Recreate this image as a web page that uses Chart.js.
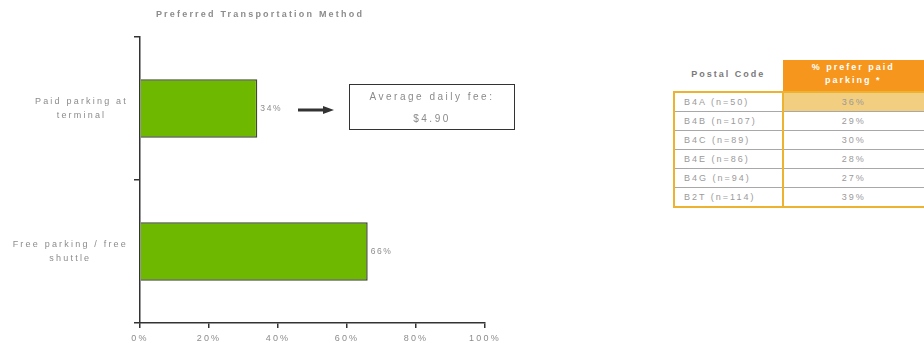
<!DOCTYPE html>
<html>
<head>
<meta charset="utf-8">
<script src="https://cdn.jsdelivr.net/npm/chart.js@4/dist/chart.umd.min.js"></script>
<style>
  html, body { margin: 0; padding: 0; background: #fff; }
  body { width: 924px; height: 343px; overflow: hidden; position: relative;
         font-family: "Liberation Sans", Arial, sans-serif; }
  #chartBox { position: absolute; left: 0; top: 0; width: 520px; height: 343px; }
  #arrow { position: absolute; left: 0; top: 0; }
  #feeBox { position: absolute; left: 349px; top: 84px; width: 164px; height: 44px;
            border: 1.5px solid #333; color: #8a8a8a; font-size: 10px; letter-spacing: 2.5px;
            text-align: center; line-height: 12px; }
  #feeBox .l1 { margin-top: 6px; }
  #feeBox .l2 { margin-top: 10px; }
  #postal { position: absolute; left: 673px; top: 60px; border-collapse: collapse;
            font-size: 9px; letter-spacing: 2px; color: #9a9a9a; }
  #postal th { height: 27px; padding: 0; font-weight: bold; }
  #postal th.c1 { width: 109px; color: #7a7a7a; background: #fff; padding-bottom: 4px; }
  #postal th.c2 { width: 142px; background: #F7961C; color: #fff; line-height: 13px; padding-bottom: 4px; }
  #postal td { height: 18px; padding: 0; border-top: 1px solid #a8a8a8; }
  #postal td.c1 { text-align: left; padding-left: 9px; border-left: 2px solid #EDB230;
                  border-right: 2px solid #EDB230; }
  #postal td.c2 { text-align: center; }
  #postal tbody tr:first-child td { border-top: 2px solid #EDB230; }
  #postal tbody tr:last-child td { border-bottom: 2px solid #EDB230; }
  #postal td.hatch { background: radial-gradient(circle, #EDBB55 0.6px, rgba(0,0,0,0) 0.9px) 0 0 / 2px 2px, #FDF0CF; }
</style>
</head>
<body>
<div id="chartBox"><canvas id="c" width="520" height="343"></canvas></div>

<svg id="arrow" width="520" height="343">
  <line x1="298" y1="110" x2="327" y2="110" stroke="#333" stroke-width="3"/>
  <polygon points="323,106 334,110 323,114" fill="#333"/>
</svg>
<div id="feeBox"><div class="l1" id="feeLabel"></div><div class="l2" id="feeValue"></div></div>

<table id="postal">
  <thead><tr><th class="c1" id="h1"></th><th class="c2" id="h2"></th></tr></thead>
  <tbody id="postalBody"></tbody>
</table>

<script>
// Chart data
const chartTitle = 'Preferred Transportation Method';
const methods = [['Paid parking at', 'terminal'], ['Free parking / free', 'shuttle']];
const methodShare = [34, 66];

// Callout
const feeLabel = 'Average daily fee:';
const feeValue = '$4.90';

// Postal code table
const tableHeaders = ['Postal Code', '% prefer paid parking *'];
const postalCodes = ['B4A (n=50)', 'B4B (n=107)', 'B4C (n=89)', 'B4E (n=86)', 'B4G (n=94)', 'B2T (n=114)'];
const preferPaid = [36, 29, 30, 28, 27, 39];

const textGray = '#8c8c8c';
const axisDark = '#333333';
const FAMILY = '"Liberation Sans", Arial, sans-serif';
const SPACING = '2.2px';

// Letter spacing for all canvas text (reset whenever the canvas is resized)
const spacingPlugin = {
  id: 'spacing',
  beforeLayout(chart) { chart.ctx.letterSpacing = SPACING; },
  beforeDraw(chart) { chart.ctx.letterSpacing = SPACING; }
};

// Title centred over the whole canvas
const titlePlugin = {
  id: 'centerTitle',
  afterDraw(chart) {
    const ctx = chart.ctx;
    ctx.save();
    ctx.letterSpacing = SPACING;
    ctx.font = 'bold 9px ' + FAMILY;
    ctx.fillStyle = textGray;
    ctx.textAlign = 'center';
    ctx.textBaseline = 'middle';
    ctx.fillText(chartTitle, chart.width / 2, 15);
    ctx.restore();
  }
};

// Category labels: each block centred on itself, widest line ending at the tick
const categoryLabels = {
  id: 'categoryLabels',
  afterDraw(chart) {
    const scale = chart.scales.y;
    const ctx = chart.ctx;
    const lineH = 13.5;
    ctx.save();
    ctx.letterSpacing = SPACING;
    ctx.font = '9px ' + FAMILY;
    ctx.fillStyle = textGray;
    ctx.textAlign = 'center';
    ctx.textBaseline = 'middle';
    chart.data.labels.forEach((lines, i) => {
      const y = scale.getPixelForTick(i);
      const w = Math.max(...lines.map(l => ctx.measureText(l).width));
      const cx = scale.right - 12 - w / 2;
      const y0 = y - (lines.length - 1) * lineH / 2;
      lines.forEach((l, k) => ctx.fillText(l, cx, y0 + k * lineH));
    });
    ctx.restore();
  }
};

// Percentage label just past the end of each bar
const valueLabels = {
  id: 'valueLabels',
  afterDatasetsDraw(chart) {
    const ctx = chart.ctx;
    const meta = chart.getDatasetMeta(0);
    ctx.save();
    ctx.letterSpacing = '1.6px';
    ctx.font = '8.5px ' + FAMILY;
    ctx.fillStyle = textGray;
    ctx.textAlign = 'left';
    ctx.textBaseline = 'middle';
    meta.data.forEach((bar, i) => {
      ctx.fillText(chart.data.datasets[0].data[i] + '%', bar.x + 3, bar.y);
    });
    ctx.restore();
  }
};

new Chart(document.getElementById('c'), {
  type: 'bar',
  data: {
    labels: methods,
    datasets: [{
      data: methodShare,
      backgroundColor: '#6FB800',
      borderColor: '#3d4a2c',
      borderWidth: 1.5,
      categoryPercentage: 1,
      barPercentage: 0.41
    }]
  },
  options: {
    indexAxis: 'y',
    responsive: false,
    devicePixelRatio: 1,
    animation: false,
    layout: { padding: { left: 0, right: 35, top: 37, bottom: 0 } },
    plugins: {
      legend: { display: false },
      tooltip: { enabled: false },
      title: { display: false }
    },
    scales: {
      x: {
        min: 0, max: 100,
        ticks: {
          stepSize: 20,
          color: textGray,
          padding: 5,
          font: { family: FAMILY, size: 9 },
          callback: v => v + '%'
        },
        grid: { drawOnChartArea: false, drawTicks: true, tickLength: 5, color: axisDark, lineWidth: 1.5 },
        border: { display: true, color: axisDark, width: 1.5 },
        afterFit(scale) { scale.height = 20; }
      },
      y: {
        ticks: { display: false },
        grid: { drawOnChartArea: false, drawTicks: true, tickLength: 6, color: axisDark, lineWidth: 1.5, offset: true },
        border: { display: true, color: axisDark, width: 1.5 },
        afterFit(scale) { scale.width = 140; }
      }
    }
  },
  plugins: [spacingPlugin, titlePlugin, categoryLabels, valueLabels]
});

// Callout text
document.getElementById('feeLabel').textContent = feeLabel;
document.getElementById('feeValue').textContent = feeValue;

// Table
document.getElementById('h1').textContent = tableHeaders[0];
const h2 = tableHeaders[1].split(' ');
document.getElementById('h2').append(h2.slice(0, 3).join(' '), document.createElement('br'), h2.slice(3).join(' '));
const body = document.getElementById('postalBody');
postalCodes.forEach((code, i) => {
  const tr = document.createElement('tr');
  const a = document.createElement('td');
  a.className = 'c1';
  a.textContent = code;
  const b = document.createElement('td');
  b.className = 'c2' + (i === 0 ? ' hatch' : '');
  b.textContent = preferPaid[i] + '%';
  tr.append(a, b);
  body.appendChild(tr);
});
</script>
</body>
</html>
